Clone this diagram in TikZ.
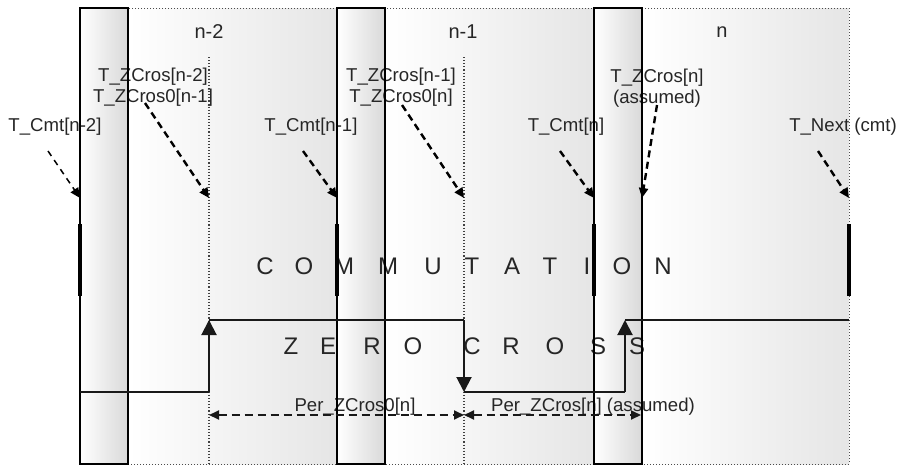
\documentclass[tikz,border=0pt]{standalone}
\usepackage{fontspec}
\setmainfont{Liberation Sans}
\usetikzlibrary{arrows.meta}
\begin{document}
\begin{tikzpicture}[x=1pt,y=-1pt,
  panel/.style={left color=white,right color=black!10,draw=none},
  slot/.style={left color=white,right color=black!15,draw=none},
  slotedge/.style={draw=black,line width=2.4pt},
  frame/.style={draw=black!70,line width=1pt,dotted},
  guide/.style={draw=black!75,line width=1.1pt,dotted},
  marker/.style={draw=black,line width=4.5pt},
  wave/.style={draw=black!90,line width=2pt},
  wavetip/.style={-{Triangle[length=15pt,width=15pt]}},
  lbl/.style={font=\fontsize{18.6}{21}\selectfont,text=black!85,inner sep=0pt,align=center},
  idx/.style={font=\fontsize{20}{24}\selectfont,text=black!85,inner sep=0pt},
  big/.style={font=\fontsize{24}{24}\selectfont,text=black!85,inner sep=0pt},
  pointer/.style={draw=black,line width=2.4pt,dash pattern=on 7pt off 4.5pt,
    -{Triangle[length=10pt,width=9pt]}},
  thinpointer/.style={pointer,line width=1.5pt,dash pattern=on 6pt off 5pt},
  period/.style={draw=black!90,line width=1.8pt,dash pattern=on 8pt off 5pt,
    {Triangle[length=10pt,width=9pt]}-{Triangle[length=10pt,width=9pt]}}
]
\useasboundingbox (0,0) rectangle (897,466);

% background panels between the commutation slots
\fill[panel] (128,8) rectangle (337,464);
\fill[panel] (385,8) rectangle (594,464);
\fill[panel] (642,8) rectangle (849,464);
% commutation slots
\fill[slot] (80,8) rectangle (128,464);
\fill[slot] (337,8) rectangle (385,464);
\fill[slot] (594,8) rectangle (642,464);

% dotted frame and zero-cross guides
\draw[frame] (80,8) rectangle (849,464);
\coordinate (g2top) at (209,57);
\coordinate (g2bot) at (209,464);
\coordinate (g1top) at (464,57);
\coordinate (g1bot) at (464,464);
\draw[guide] (g2top) -- (g2bot);
\draw[guide] (g1top) -- (g1bot);

% section indices
\node[idx] (n2) at (209,32) {n-2};
\node[idx] (n1) at (463,32) {n-1};
\node[idx] (n0) at (722,32) {n};

% spaced captions
\foreach \ch/\px [count=\i] in {C/265,O/304,M/344,M/388,U/433,T/472,A/512,T/550,I/587,O/622,N/663}
  \node[big,name=cm\i] at (\px,266) {\ch};
\foreach \ch/\px [count=\i] in {Z/291,E/328,R/372,O/413,C/472,R/511,O/555,S/598,S/637}
  \node[big,name=zc\i] at (\px,346) {\ch};

% event labels
\node[lbl] (lcmt2) at (55,127) {T\_Cmt[n-2]};
\node[lbl] (lzc2) at (153,87) {T\_ZCros[n-2]\\T\_ZCros0[n-1]};
\node[lbl] (lcmt1) at (311,127) {T\_Cmt[n-1]};
\node[lbl] (lzc1) at (401,87) {T\_ZCros[n-1]\\T\_ZCros0[n]};
\node[lbl] (lcmt0) at (566,127) {T\_Cmt[n]};
\node[lbl] (lzc0) at (657,88) {T\_ZCros[n]\\(assumed)};
\node[lbl] (lnext) at (843,127) {T\_Next (cmt)};
\node[lbl] (lper0) at (355,407) {Per\_ZCros0[n]};
\node[lbl] (lper) at (593,407) {Per\_ZCros[n] (assumed)};

% slot outlines
\draw[slotedge] (80,8) rectangle (128,464);
\draw[slotedge] (337,8) rectangle (385,464);
\draw[slotedge] (594,8) rectangle (642,464);

% commutation markers
\draw[marker] (80,224) -- (80,296);
\draw[marker] (337,224) -- (337,296);
\draw[marker] (594,224) -- (594,296);
\draw[marker] (849,224) -- (849,296);

% zero-cross waveform
\coordinate (w0) at (80,392);
\coordinate (w1) at (209,392);
\coordinate (w2) at (209,320);
\coordinate (w3) at (464,320);
\coordinate (w4) at (464,392);
\coordinate (w5) at (625,392);
\coordinate (w6) at (625,320);
\coordinate (w7) at (849,320);
\draw[wave] (w0) -- (w1);
\draw[wave,wavetip] (w1) -- (w2);
\draw[wave] (w2) -- (w3);
\draw[wave,wavetip] (w3) -- (w4);
\draw[wave] (w4) -- (w5);
\draw[wave,wavetip] (w5) -- (w6);
\draw[wave] (w6) -- (w7);

% pointers from labels to events
\coordinate (s1) at (48,151);  \coordinate (e1) at (80,198);
\coordinate (s2) at (145,103); \coordinate (e2) at (209,198);
\coordinate (s3) at (303,151); \coordinate (e3) at (337,198);
\coordinate (s4) at (402,105); \coordinate (e4) at (464,198);
\coordinate (s5) at (560,151); \coordinate (e5) at (594,198);
\coordinate (s6) at (657,105); \coordinate (e6) at (642,198);
\coordinate (s7) at (818,151); \coordinate (e7) at (849,198);
\draw[thinpointer] (s1) -- (e1);
\draw[pointer] (s2) -- (e2);
\draw[pointer] (s3) -- (e3);
\draw[pointer] (s4) -- (e4);
\draw[pointer] (s5) -- (e5);
\draw[pointer] (s6) -- (e6);
\draw[pointer] (s7) -- (e7);

% period spans
\coordinate (p0) at (209,415);
\coordinate (p1) at (464,415);
\coordinate (p2) at (641,415);
\draw[period] (p0) -- (p1);
\draw[period] (p1) -- (p2);
\end{tikzpicture}
\end{document}
